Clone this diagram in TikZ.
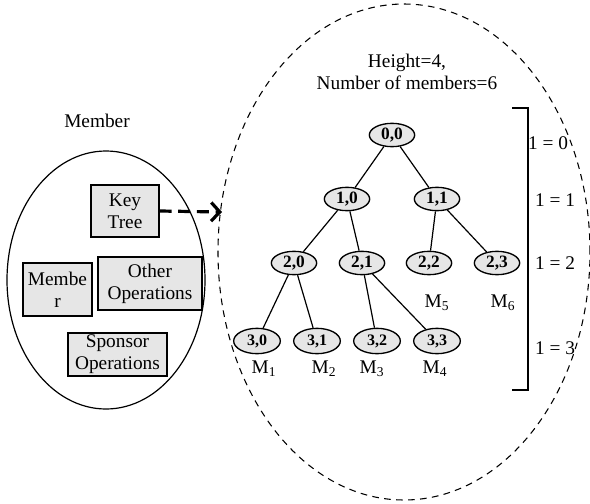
\documentclass[tikz,border=0pt]{standalone}
\usepackage{fontspec}
\setmainfont{Liberation Serif}
\usetikzlibrary{arrows.meta,shapes.geometric}
\definecolor{boxgray}{HTML}{E6E6E6}
\tikzset{
  txt/.style={font=\fontsize{14.5}{16.5}\selectfont, inner sep=0pt, align=center},
  opbox/.style={draw, line width=0.8pt, fill=boxgray, txt, minimum height=0pt},
  tnode/.style={ellipse, draw, line width=1pt, fill=boxgray, inner sep=0pt,
     minimum width=34pt, minimum height=17.5pt, font=\bfseries\fontsize{13}{14}\selectfont},
  lnode/.style={tnode, minimum width=35pt, minimum height=19pt, font=\bfseries\fontsize{12}{13}\selectfont},
  tedge/.style={line width=0.9pt},
  mlab/.style={txt}
}
\begin{document}
\begin{tikzpicture}[x=0.75pt,y=-0.75pt]
\useasboundingbox (0,0) rectangle (590,504);
% left ellipse
\node[draw, ellipse, line width=0.9pt, inner sep=0pt,
  minimum width=148.5pt, minimum height=193.5pt] (memell) at (106,280) {};
\node[txt] (memlab) at (97,121) {Member};
% boxes
\node[opbox, minimum width=51pt, minimum height=39pt] (keytree) at (125,211) {Key\\Tree};
\node[opbox, minimum width=51.75pt, minimum height=39.75pt] (memb) at (57.5,289.5) {Membe\\r};
\node[opbox, minimum width=78pt, minimum height=39.75pt] (other) at (150,283.5) {Other\\Operations};
\node[opbox, minimum width=74.25pt, minimum height=32.25pt] (sponsor) at (117.5,354.5) {Sponsor\\Operations};
% dashed ellipse
\node[draw, ellipse, dash pattern=on 5pt off 4pt, line width=0.8pt, inner sep=0pt,
  minimum width=279pt, minimum height=372pt] (treeell) at (404,252) {};
\coordinate (arrend) at (222,212);
\draw[line width=2.4pt, dash pattern=on 9pt off 5pt, -{Straight Barb[length=6.5pt,width=14pt,line width=2.4pt]}]
  (keytree.east) -- (arrend);
% title
\node[txt] (title) at (407,72) {Height=4,\\Number of members=6};
% tree
\node[tnode] (n00) at (392,135) {0,0};
\node[tnode] (n10) at (347,199) {1,0};
\node[tnode] (n11) at (437,199) {1,1};
\node[tnode] (n20) at (294,263) {2,0};
\node[tnode] (n21) at (362,263) {2,1};
\node[tnode] (n22) at (429,263) {2,2};
\node[tnode] (n23) at (497,263) {2,3};
\node[lnode] (n30) at (257,341) {3,0};
\node[lnode] (n31) at (317,341) {3,1};
\node[lnode] (n32) at (377,341) {3,2};
\node[lnode] (n33) at (437,341) {3,3};
\draw[tedge] (n00) -- (n10);
\draw[tedge] (n00) -- (n11);
\draw[tedge] (n10) -- (n20);
\draw[tedge] (n10) -- (n21);
\draw[tedge] (n11) -- (n22);
\draw[tedge] (n11) -- (n23);
\draw[tedge] (n20) -- (n30);
\draw[tedge] (n20) -- (n31);
\draw[tedge] (n21) -- (n32);
\draw[tedge] (n21) -- (n33);
% member labels
\node[mlab] (m1) at (264,369) {M\textsubscript{1}};
\node[mlab] (m2) at (324,369) {M\textsubscript{2}};
\node[mlab] (m3) at (372,369) {M\textsubscript{3}};
\node[mlab] (m4) at (435,369) {M\textsubscript{4}};
\node[mlab] (m5) at (437,303) {M\textsubscript{5}};
\node[mlab] (m6) at (503,303) {M\textsubscript{6}};
% bracket
\coordinate (bt) at (512,108);
\coordinate (btr) at (528,108);
\coordinate (bbr) at (528,390);
\coordinate (bb) at (512,390);
\draw[line width=1.2pt] (bt) -- (btr) -- (bbr) -- (bb);
% level labels
\node[txt] (l0) at (548,143) {1 = 0};
\node[txt] (l1) at (555,200) {1 = 1};
\node[txt] (l2) at (555,263) {1 = 2};
\node[txt] (l3) at (555,348) {1 = 3};
\end{tikzpicture}
\end{document}
